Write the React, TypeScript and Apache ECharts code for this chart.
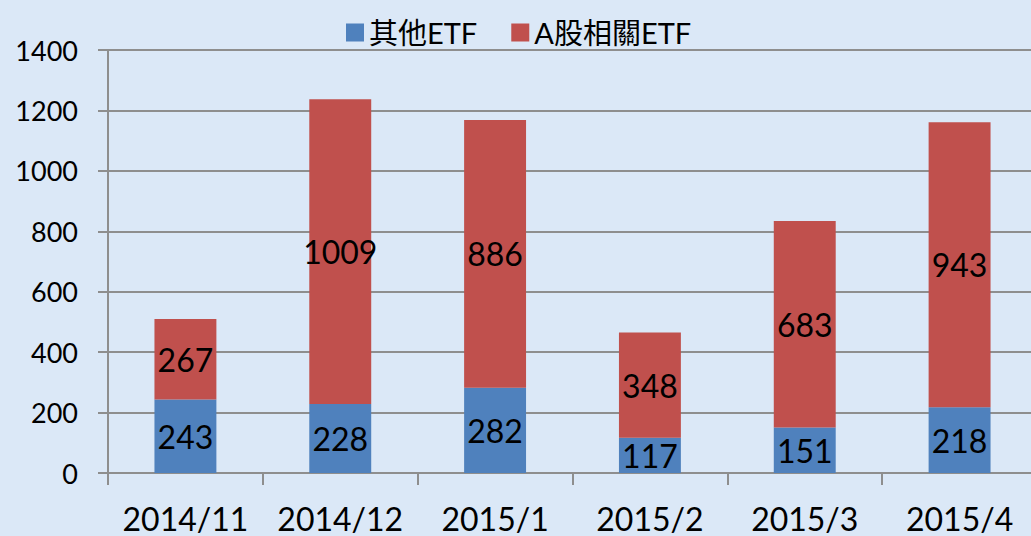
import React, { useEffect, useRef } from "react";
import * as echarts from "echarts";

const categories = ["2014/11", "2014/12", "2015/1", "2015/2", "2015/3", "2015/4"];
const otherEtf = [243, 228, 282, 117, 151, 218];
const aShareEtf = [267, 1009, 886, 348, 683, 943];
const seriesNames = ["其他ETF", "A股相關ETF"];

const FONT = "Lato, 'Noto Sans CJK TC', sans-serif";

export default function App() {
  const ref = useRef<HTMLDivElement>(null);
  useEffect(() => {
    if (!ref.current) return;
    const chart = echarts.init(ref.current, null, { renderer: "svg" });
    const label = {
      show: true,
      position: "inside",
      color: "#000",
      fontSize: 32,
      fontFamily: FONT,
    };
    chart.setOption({
      animation: false,
      backgroundColor: "#dbe8f7",
      textStyle: { fontFamily: FONT },
      legend: {
        top: 13,
        left: 341,
        itemWidth: 18,
        itemHeight: 18,
        itemGap: 34,
        icon: "rect",
        textStyle: { fontSize: 29, color: "#000", fontFamily: FONT },
        data: seriesNames,
      },
      grid: { left: 108, right: 0, top: 50, bottom: 63, containLabel: false },
      xAxis: {
        type: "category",
        data: categories,
        axisLine: { show: true, lineStyle: { color: "#8e8e8e", width: 2 } },
        axisTick: { show: true, length: 12, lineStyle: { color: "#8e8e8e", width: 2 } },
        axisLabel: { fontSize: 32, color: "#000", margin: 29, fontFamily: FONT, interval: 0 },
      },
      yAxis: {
        type: "value",
        min: 0,
        max: 1400,
        interval: 200,
        axisLine: { show: true, lineStyle: { color: "#8e8e8e", width: 2 } },
        axisTick: { show: true, length: 10, lineStyle: { color: "#8e8e8e", width: 2 } },
        splitLine: { show: true, lineStyle: { color: "#8e8e8e", width: 2 } },
        axisLabel: {
          fontSize: 27,
          color: "#000",
          margin: 30,
          fontFamily: FONT,
          formatter: (v: number) => String(v),
        },
      },
      series: [
        {
          name: seriesNames[0],
          type: "bar",
          stack: "total",
          barWidth: "40%",
          data: otherEtf,
          itemStyle: { color: "#4f81bd" },
          label,
        },
        {
          name: seriesNames[1],
          type: "bar",
          stack: "total",
          barWidth: "40%",
          data: aShareEtf,
          itemStyle: { color: "#c0504d" },
          label,
        },
      ],
    });
    return () => chart.dispose();
  }, []);
  return (
    <div
      style={{
        position: "fixed",
        left: 0,
        top: 0,
        width: 1031,
        height: 536,
        overflow: "hidden",
        background: "#dbe8f7",
      }}
    >
      <div ref={ref} style={{ width: 1037, height: 536 }} />
    </div>
  );
}
